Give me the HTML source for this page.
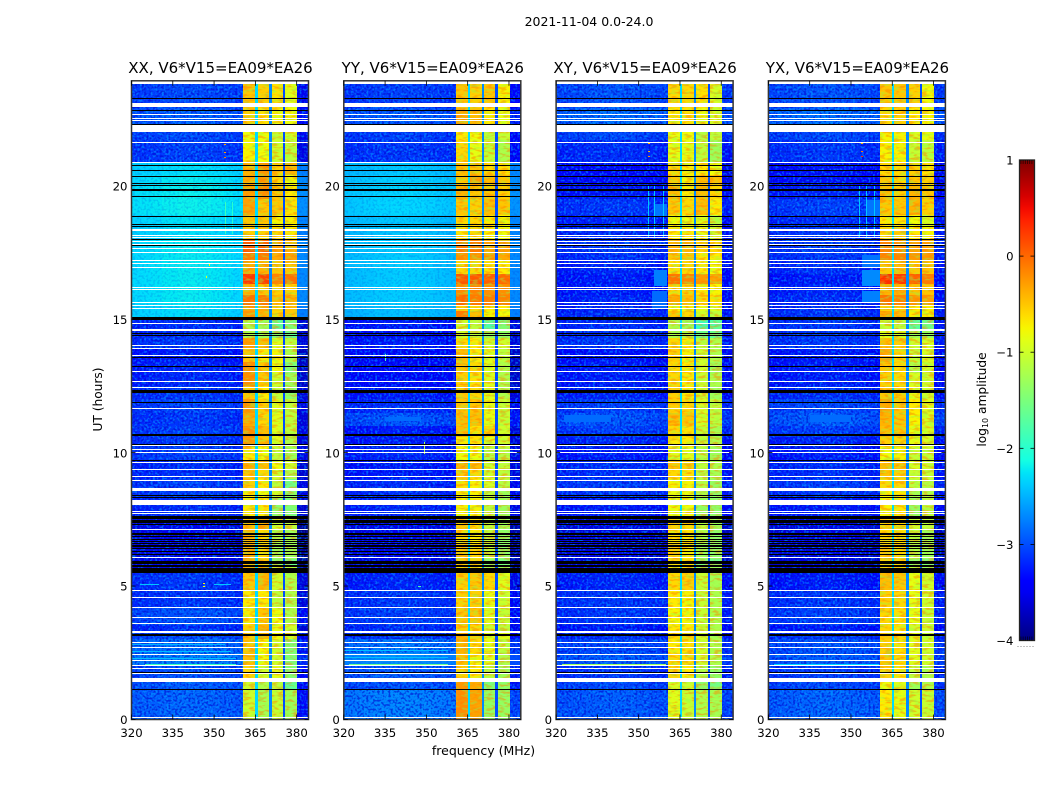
<!DOCTYPE html>
<html lang="en">
<head>
<meta charset="utf-8">
<title>2021-11-04 amplitude waterfall</title>
<style>
html,body{margin:0;padding:0;background:#fff;width:1050px;height:800px;overflow:hidden}
svg{display:block}
text{font-family:"DejaVu Sans","Liberation Sans",sans-serif;fill:#000}
</style>
</head>
<body>
<svg id="figure" width="1050" height="800" viewBox="0 0 1050 800" xmlns="http://www.w3.org/2000/svg">
  <defs>
    <filter id="speckle-light" x="0" y="0" width="1" height="1" color-interpolation-filters="sRGB">
      <feTurbulence type="fractalNoise" baseFrequency="0.45" numOctaves="1" seed="3"/>
      <feColorMatrix type="matrix" values="0 0 0 0 0  0 0 0 0 0.62  0 0 0 0 1  6 0 0 0 -2.9"/>
    </filter>
    <filter id="speckle-dark" x="0" y="0" width="1" height="1" color-interpolation-filters="sRGB">
      <feTurbulence type="fractalNoise" baseFrequency="0.45" numOctaves="1" seed="11"/>
      <feColorMatrix type="matrix" values="0 0 0 0 0  0 0 0 0 0  0 0 0 0 0.8  6 0 0 0 -2.9"/>
    </filter>
    <filter id="stripe-warm" x="0" y="0" width="1" height="1" color-interpolation-filters="sRGB">
      <feTurbulence type="fractalNoise" baseFrequency="0.14 0.38" numOctaves="2" seed="7"/>
      <feColorMatrix type="matrix" values="0 0 0 0 1  0 0 0 0 0.5  0 0 0 0 0  5 0 0 0 -2.4"/>
    </filter>
    <filter id="stripe-cool" x="0" y="0" width="1" height="1" color-interpolation-filters="sRGB">
      <feTurbulence type="fractalNoise" baseFrequency="0.14 0.38" numOctaves="2" seed="21"/>
      <feColorMatrix type="matrix" values="0 0 0 0 0.55  0 0 0 0 1  0 0 0 0 0.3  5 0 0 0 -2.5"/>
    </filter>
    <linearGradient id="jet-gradient" x1="0" y1="1" x2="0" y2="0"></linearGradient>
  </defs>
  <text x="589" y="26" text-anchor="middle" font-size="12.5">2021-11-04 0.0-24.0</text>
  <text x="483.5" y="755" text-anchor="middle" font-size="12.5">frequency (MHz)</text>
  <text transform="translate(102,399.5) rotate(-90)" text-anchor="middle" font-size="12.2">UT (hours)</text>
  <g id="panels"></g>
  <g id="colorbar"></g>
  <text transform="translate(986,399.5) rotate(-90)" text-anchor="middle" font-size="12.2">log<tspan font-size="8" dy="2">10</tspan><tspan dy="-2"> amplitude</tspan></text>
</svg>
<script>
// ---- axis ticks ----
const xTickLabels = [320, 335, 350, 365, 380];
const yTickLabels = [0, 5, 10, 15, 20];
const colorbarTicks = [1, 0, -1, -2, -3, -4];
const panelTitles = ["XX, V6*V15=EA09*EA26", "YY, V6*V15=EA09*EA26", "XY, V6*V15=EA09*EA26", "YX, V6*V15=EA09*EA26"];

// ---- heatmap rows: UT band edges (hours) ----
const utEdges = [0,1.15,1.5,2,2.5,3,3.3,3.55,4.2,4.8,5.5,5.7,6,6.6,7.1,7.6,8.3,8.6,9,9.4,9.7,10.2,10.6,11,11.5,12,12.5,13,13.4,13.9,14.3,14.55,15.03,15.3,15.5,15.9,16.3,16.7,17.2,17.5,18,18.5,18.9,19.5,20,20.4,20.9,21.7,22.2,22.9,23.95];

// ---- heatmap columns: frequency edges (MHz) ----
const backgroundEdges = [320, 323, 327, 331, 337, 344, 349, 353, 357, 360.6];
const backgroundOffsets = [-0.05, -0.03, -0.01, 0.02, 0.04, 0.03, 0.01, -0.02, -0.05];
const subbandEdges = [[360.6,365],[365.8,370.1],[371,375.1],[375.9,380.2]];
const gapEdges = [[365,365.8],[370.1,371],[375.1,375.9]];
const gapLevels = [-2.3, -2.7, -3.0];
const rightEdge = [380.2, 384.3];
const rightOffsets = [-0.45, -0.3, -0.12, -0.12];

// ---- log10 amplitude: off-band background per UT band ----
const xxBackground = [-2.9,-2.95,-3,-2.75,-2.85,-3.05,-3.2,-3,-3.15,-3.15,
 -3.6,-3.5,-3.55,-3.55,-3.55,-3.2,-3.1,-3.1,-3.2,-3.2,
 -3.1,-3.15,-3.1,-3.15,-3.1,-3.15,-3.25,-3.25,-3.3,-3.15,
 -3.2,-3.2,-2.3,-2.3,-2.25,-2.25,-2.25,-2.25,-2.25,-2.25,
 -2.3,-2.28,-2.22,-2.22,-2.25,-2.3,-3.1,-3.05,-2.95,-3.05];
const yyBackground = [-2.75,-3,-2.95,-2.7,-2.8,-3.15,-3.2,-3.1,-3.15,-3.25,
 -3.6,-3.55,-3.55,-3.55,-3.55,-3.25,-3.2,-3.2,-3.3,-3.3,
 -3.25,-3.3,-3.3,-3,-3.2,-3.3,-3.4,-3.45,-3.4,-3.3,
 -3.35,-3.3,-2.45,-2.45,-2.4,-2.4,-2.4,-2.4,-2.4,-2.4,
 -2.42,-2.42,-2.35,-2.35,-2.38,-2.42,-3.15,-3.1,-2.95,-3.1];
const xyBackground = [-2.95,-3.05,-3.15,-2.95,-3.05,-3.2,-3.3,-3.15,-3.15,-3.25,
 -3.6,-3.6,-3.6,-3.6,-3.6,-3.3,-3.15,-3.1,-3.2,-3.2,
 -3.3,-3.25,-3.1,-3,-3.1,-3.25,-3.3,-3.3,-3.35,-3.15,
 -3.2,-3.2,-3.2,-3.25,-3.25,-3.3,-3.3,-3.25,-3.2,-3.15,
 -3.2,-3.25,-3.15,-3.3,-3.4,-3.4,-3.2,-3.05,-2.85,-3];
const yxBackground = [-2.9,-3.05,-3.1,-2.95,-3,-3.15,-3.3,-3.1,-3.15,-3.3,
 -3.6,-3.6,-3.6,-3.6,-3.6,-3.3,-3.15,-3.1,-3.2,-3.2,
 -3.3,-3.25,-3.1,-2.95,-3.05,-3.2,-3.3,-3.3,-3.3,-3.15,
 -3.15,-3.15,-3.15,-3.2,-3.2,-3.25,-3.3,-3.2,-3.15,-3.1,
 -3.15,-3.2,-3.1,-3.25,-3.35,-3.35,-3.15,-3.05,-2.85,-3];

// ---- log10 amplitude: four bright sub-bands per UT band ----
const xxSubbands = [[-1,-1.25,-1.05,-1.3],[-1,-1.2,-1.1,-1.7],[-.6,-1,-.9,-1.5],[-.45,-.8,-1,-1.5],[-.5,-.75,-1,-1.5],
 [-.5,-.4,-.8,-.9],[-.55,-.4,-.85,-1],[-.7,-.5,-.8,-1.2],[-.7,-.7,-1.1,-1.2],[-.5,-.4,-1,-1.2],
 [-.4,-.4,-1,-1.1],[-.4,-.5,-1.4,-1.6],[-.35,-.6,-1.3,-1.3],[-.4,-.6,-1.2,-1.3],[-.45,-.35,-1,-1.1],
 [-.7,-.7,-1.4,-1.5],[-.7,-.8,-1,-1.4],[-.55,-.7,-1.1,-1.6],[-.5,-.6,-1,-1.2],[-.35,-.45,-.8,-1],
 [-.7,-.8,-1.1,-1.3],[-.25,-.5,-.9,-1.2],[-.2,-.45,-.9,-1.1],[-.35,-.6,-.9,-1.1],[-.25,-.55,-.9,-1.1],
 [-.5,-.7,-1.1,-1.4],[-.2,-.5,-1,-1.3],[-.2,-.5,-.8,-1.5],[-.5,-.7,-.75,-1.2],[-.3,-.45,-.9,-1.1],
 [-1.2,-1.3,-1.5,-1.7],[-1.2,-1.3,-1.7,-1.5],[-.25,-.4,-.6,-.5],[-.3,-.35,-.55,-.5],[-.05,-.1,-.45,-.4],
 [-.4,-.5,-.55,-.55],[.25,.2,-.15,-.05],[-.35,-.4,-.5,-.5],[-.1,-.1,-.35,-.3],[.1,.05,-.3,-.4],
 [-.55,-.55,-.6,-.7],[-.5,-.5,-.75,-.75],[-.3,-.5,-.5,-.65],[-.3,-.2,-.5,-.7],[-.35,-.25,-.6,-.75],
 [-.4,-.25,-.55,-.4],[-.75,-.8,-1,-1.1],[-.8,-.8,-1.05,-.95],[-.55,-.65,-.8,-.8],[-.5,-.55,-.65,-.9]];
const yySubbands = [[-.2,-.3,-1.35,-1.35],[-.25,-.35,-1.5,-1.4],[-.55,-.7,-1.1,-1.3],[-.45,-.75,-.9,-1.2],[-.4,-.6,-.85,-1.1],
 [-.4,-.55,-.85,-.9],[-.55,-.6,-1,-1.1],[-.5,-.5,-.9,-1.05],[-.55,-.55,-.85,-1],[-.55,-.5,-.6,-.9],
 [-.6,-.7,-1.2,-1.3],[-.5,-.55,-1.4,-1.5],[-.5,-.6,-1.1,-1.4],[-.6,-.7,-1.1,-1.4],[-.5,-.6,-1.1,-1.3],
 [-.75,-.75,-1.1,-1.3],[-.75,-.75,-1.1,-1.3],[-.65,-.75,-.95,-1.15],[-.5,-.6,-1,-1.1],[-.4,-.45,-1,-1.1],
 [-.8,-.8,-1.15,-1.15],[-.7,-.65,-.9,-1],[-.45,-.65,-.6,-1],[-.45,-.45,-.85,-1.05],[-.5,-.5,-.85,-1.05],
 [-.5,-.6,-.9,-1.2],[-.55,-.65,-.9,-1.2],[-.5,-.6,-.9,-1.2],[-.45,-.7,-.9,-1.1],[-.6,-.7,-1,-1],
 [-1,-1.1,-1.35,-1.4],[-1,-1.1,-1.8,-1.5],[-.1,-.45,-.75,-.8],[-.55,-.6,-.7,-.7],[0,-.1,-.1,-.15],
 [-.2,-.15,-.2,-.2],[.1,.1,.05,0],[-.6,-.6,-.65,-.7],[-.25,-.25,-.3,-.35],[-.1,-.1,-.35,-.3],
 [-.65,-.6,-.75,-.8],[-.6,-.6,-.7,-.75],[-.5,-.55,-.45,-.5],[-.4,-.5,-.5,-.55],[-.5,-.3,-.45,-.5],
 [-.45,-.5,-.6,-.65],[-.6,-.85,-1.05,-1.2],[-.7,-.8,-1.1,-1.05],[-.35,-.45,-.7,-.85],[-.5,-.55,-.5,-.75]];
const xySubbands = [[-.9,-1.05,-1.2,-1.25],[-.95,-1,-1.4,-1.55],[-.6,-.7,-1.2,-1.4],[-.6,-.6,-1,-1.2],[-.7,-.65,-1,-1.2],
 [-.6,-.6,-1,-1.25],[-.7,-.7,-1,-1.2],[-.75,-.75,-1.05,-1.2],[-.7,-.75,-1.05,-1.2],[-.6,-.55,-1.05,-1.25],
 [-.7,-.7,-1.3,-1.3],[-.6,-.65,-1.5,-1.6],[-.55,-.7,-1.3,-1.4],[-.65,-.7,-1.2,-1.4],[-.55,-.6,-1.1,-1.3],
 [-.8,-.8,-1.35,-1.4],[-.85,-.85,-1.2,-1.4],[-.75,-.75,-1.15,-1.35],[-.6,-.65,-1.15,-1.25],[-.5,-.55,-1.1,-1.2],
 [-.9,-.9,-1.15,-1.3],[-.7,-.7,-1.05,-1.2],[-.6,-.65,-1.05,-1.25],[-.45,-.5,-.95,-1.1],[-.55,-.6,-.95,-1.1],
 [-.55,-.7,-1,-1.3],[-.6,-.7,-1.05,-1.2],[-.6,-.7,-1,-1.3],[-.55,-.75,-1,-1.2],[-.6,-.7,-1.1,-1.2],
 [-1.2,-1.2,-1.6,-1.7],[-1.2,-1.3,-1.9,-1.8],[-.5,-.6,-1,-1.1],[-.75,-.75,-.85,-.9],[-.35,-.45,-.6,-.65],
 [-.6,-.55,-.7,-.75],[-.05,-.15,-.25,-.3],[-.65,-.6,-.7,-.8],[-.5,-.5,-.7,-.7],[-.4,-.4,-.55,-.6],
 [-.7,-.7,-.85,-1],[-.8,-.85,-.9,-1.1],[-.5,-.6,-.45,-.7],[-.45,-.7,-.45,-.6],[-.5,-.75,-.45,-.45],
 [-.6,-.7,-.7,-.8],[-.85,-.85,-1.1,-1.3],[-.85,-.8,-1.15,-1.1],[-.7,-.65,-.85,-.95],[-.6,-.6,-.65,-.95]];
const yxSubbands = [[-.7,-.85,-1,-1.05],[-.8,-.9,-1.3,-1.2],[-.55,-.65,-1.1,-1.2],[-.5,-.6,-.9,-1],[-.55,-.65,-.9,-1],
 [-.5,-.6,-.9,-1.05],[-.6,-.7,-1,-1],[-.6,-.65,-.85,-1.05],[-.55,-.6,-.85,-1],[-.45,-.5,-.85,-1],
 [-.6,-.6,-1.1,-1.3],[-.55,-.6,-1.4,-1.5],[-.5,-.6,-1.2,-1.3],[-.6,-.65,-1.1,-1.3],[-.55,-.6,-1,-1.1],
 [-.75,-.7,-1.35,-1.1],[-.75,-.7,-1.25,-1.2],[-.6,-.6,-1.1,-1.15],[-.5,-.55,-1.05,-1.05],[-.45,-.5,-.95,-1],
 [-.8,-.75,-1.05,-1.05],[-.55,-.6,-.85,-.95],[-.45,-.5,-.85,-.95],[-.4,-.5,-.75,-.95],[-.35,-.5,-.7,-.9],
 [-.5,-.55,-.85,-1],[-.55,-.6,-.95,-1],[-.5,-.6,-1.2,-1],[-.35,-.6,-1.05,-.95],[-.45,-.55,-1,-.95],
 [-.9,-.95,-1.3,-1.35],[-1.05,-1.1,-1.7,-1.6],[-.35,-.45,-.7,-.75],[-.55,-.55,-.7,-.75],[-.05,-.15,-.25,-.3],
 [-.4,-.4,-.45,-.5],[.3,.25,.05,-.1],[-.5,-.45,-.5,-.5],[-.15,-.15,-.25,-.25],[-.15,-.2,-.3,-.3],
 [-.6,-.55,-.7,-.75],[-.7,-.7,-.8,-.95],[-.5,-.5,-.4,-.55],[-.45,-.55,-.4,-.5],[-.5,-.6,-.5,-.55],
 [-.6,-.6,-.55,-.65],[-.75,-.75,-1.05,-1.1],[-.75,-.75,-.95,-.85],[-.6,-.55,-.7,-.75],[-.5,-.5,-.55,-.8]];

// ---- local features: [ut start, ut end, freq start, freq end, log10 amplitude] ----
const xxFeatures = [[2.02,2.07,325,358,-1.9],[2.25,2.29,320,358,-2.45],[2.52,2.56,320,356,-2.45],[2.78,2.82,320,354,-2.5],[5.03,5.07,323,330,-2.4],[5.03,5.07,350,356,-2.4],[5.09,5.13,346,346.6,-.8],[4.95,4.99,346,346.6,-.8],[21.54,21.58,353.7,354.3,-.3],[21.24,21.28,353.7,354.3,-.3],[21.05,21.09,353.7,354.3,-.1],[18.2,19.4,354,354.4,-1.9],[18.2,19.4,356.5,356.9,-2],[16.55,16.6,347,347.5,-.8],[17.0,17.05,348,348.5,-.8]];
const yyFeatures = [[2.03,2.08,322,358,-1.6],[2.3,2.34,320,358,-2.45],[2.55,2.59,320,358,-2.45],[4.95,5.02,347,348,-1.8],[13.45,13.7,335,335.4,-1.8],[11.2,11.35,335,348,-2.85],[9.95,10.4,349,349.4,-1.2]];
const xyFeatures = [[2.03,2.08,322,360,-1.3],[11.15,11.4,323,340,-2.85],[15.4,16.05,355,360.4,-2.85],[16.23,16.85,355.4,360.4,-2.75],[18.85,19.3,356,360.4,-2.8],[18.04,20.04,353.4,353.8,-2.4],[18.04,20.04,355.7,356.1,-2.4],[18.04,20.04,358.8,359.2,-2.4],[21.55,21.59,353.5,354,-.4],[21.25,21.29,353.5,354,-.4],[21.07,21.11,353.5,354,-.2]];
const yxFeatures = [[2.03,2.08,322,360,-2.3],[11.15,11.4,335,350,-2.85],[15.65,16.05,354,360.4,-2.75],[16.25,16.85,354,360.4,-2.7],[16.9,17.4,354,360.4,-2.8],[18.85,19.45,356,360.4,-2.8],[18.04,20.04,353,353.4,-2.4],[18.04,20.04,355.4,355.8,-2.4],[18.04,20.04,358.4,358.8,-2.4],[21.55,21.59,353.7,354.2,-.4],[21.25,21.29,353.7,354.2,-.1],[21.07,21.11,353.7,354.2,.3]];

// ---- flagged (blank, white) time spans [ut start, ut end] ----
const flaggedSpans = [[23.81,23.95],[22.94,23.11],[22.65,22.69],[22.5,22.54],[22.42,22.46],[22.01,22.27],[21.6,21.64],[20.85,20.89],
 [18.32,18.36],[18.12,18.15],[18.04,18.08],[17.9,17.94],[17.79,17.83],[17.63,17.67],[17.5,17.53],[17.16,17.2],[17.05,17.09],[16.9,16.94],
 [16.19,16.22],[16.09,16.13],[15.6,15.64],[15.5,15.54],[15.38,15.42],[14.82,14.86],[14.54,14.63],[14.46,14.49],[14.35,14.41],
 [13.98,14.02],[13.88,13.92],[13.61,13.65],[13.02,13.06],[12.63,12.67],[12.43,12.47],[11.62,11.66],[10.25,10.28],[10.1,10.14],[9.99,10.02],
 [9.61,9.65],[9.35,9.39],[9.09,9.12],[8.95,8.99],[8.56,8.68],[8.04,8.22],[7.77,7.81],[7.7,7.74],[7.1,7.14],[6.05,6.09],[5.83,5.86],[5.6,5.64],
 [4.81,4.85],[4.55,4.59],[4.19,4.23],[3.8,3.84],[3.58,3.62],[3.24,3.32],[2.87,2.9],[2.68,2.72],[2.42,2.45],[2.19,2.23],[2,2.04],[1.89,1.93],
 [1.7,1.74],[1.41,1.55],[.06,.09]];

// ---- zero-amplitude (black) time spans [ut start, ut end] ----
const zeroSpans = [[23.25,23.29],[22.79,22.83],[22.27,22.32],[20.72,20.76],[20.54,20.58],[20.33,20.37],[20.07,20.11],[19.97,20.01],[19.79,19.86],[19.57,19.61],
 [18.82,18.86],[18.52,18.56],[18.45,18.49],[17.95,17.99],[17.73,17.77],[14.97,15.07],[14.44,14.48],[14.35,14.39],[13.54,13.58],[13.2,13.24],
 [12.23,12.33],[11.86,11.9],[10.64,10.68],[10.28,10.32],[9.67,9.71],[8.39,8.43],[8.3,8.34],[7.6,7.64],[7.53,7.57],[7.45,7.49],[7.38,7.42],[7.27,7.31],
 [6.93,6.97],[6.84,6.88],[6.74,6.78],[6.65,6.69],[6.56,6.6],[6.48,6.52],[6.37,6.41],[6.26,6.3],[6.16,6.2],[5.83,5.95],[5.73,5.77],[5.5,5.66],
 [3.18,3.22],[3.11,3.15],[1.74,1.78],[1.12,1.16]];

const panelBackgrounds = [xxBackground, yyBackground, xyBackground, yxBackground];
const panelSubbands = [xxSubbands, yySubbands, xySubbands, yxSubbands];
const panelFeatures = [xxFeatures, yyFeatures, xyFeatures, yxFeatures];

// ---- layout ----
const NS = 'http://www.w3.org/2000/svg';
const FREQ_MIN = 320, FREQ_MAX = 384.3, UT_MAX = 23.93;
const AX_TOP = 80.8, AX_BOTTOM = 719.5, AX_WIDTH = 177, AX_STEP = 212.3, AX_FIRST = 131.5;
const COLOR_MIN = -4, COLOR_MAX = 1;
const CB_LEFT = 1019.5, CB_RIGHT = 1034.5, CB_TOP = 160, CB_BOTTOM = 640.5;

function panelLeft(i) { return AX_FIRST + AX_STEP * i; }
function xScale(i, f) { return panelLeft(i) + (f - FREQ_MIN) / (FREQ_MAX - FREQ_MIN) * AX_WIDTH; }
function yScale(ut) { return AX_BOTTOM - ut / UT_MAX * (AX_BOTTOM - AX_TOP); }
function cbScale(v) { return CB_BOTTOM - (v - COLOR_MIN) / (COLOR_MAX - COLOR_MIN) * (CB_BOTTOM - CB_TOP); }

function interp(t, pts) {
  for (let k = 1; k < pts.length; k++) {
    if (t <= pts[k][0]) {
      const a = pts[k - 1], b = pts[k];
      return a[1] + (t - a[0]) / (b[0] - a[0]) * (b[1] - a[1]);
    }
  }
  return pts[pts.length - 1][1];
}
function jet(t) {
  t = Math.max(0, Math.min(1, t));
  const r = interp(t, [[0,0],[.35,0],[.66,1],[.89,1],[1,.5]]);
  const g = interp(t, [[0,0],[.125,0],[.375,1],[.64,1],[.91,0],[1,0]]);
  const b = interp(t, [[0,.5],[.11,1],[.34,1],[.65,0],[1,0]]);
  return 'rgb(' + Math.round(r * 255) + ',' + Math.round(g * 255) + ',' + Math.round(b * 255) + ')';
}
function colorOf(v) { return jet((v - COLOR_MIN) / (COLOR_MAX - COLOR_MIN)); }

function make(tag, parent, attrs) {
  const el = document.createElementNS(NS, tag);
  for (const k in attrs) el.setAttribute(k, attrs[k]);
  parent.appendChild(el);
  return el;
}
function cellAttrs(i, f0, f1, u0, u1, fill) {
  const x0 = Math.round(xScale(i, f0)), x1 = Math.round(xScale(i, f1));
  const y0 = Math.round(yScale(u1)), y1 = Math.round(yScale(u0));
  return { x: x0, y: y0, width: Math.max(1, x1 - x0), height: Math.max(1, y1 - y0), fill: fill };
}

const panelsRoot = document.getElementById('panels');
panelTitles.forEach(function (title, i) {
  const slug = title.slice(0, 2).toLowerCase();
  const panel = make('g', panelsRoot, {});
  
  

  const heat = make('g', panel, { 'shape-rendering': 'crispEdges' });
  
  

  const base = make('rect', heat, { x: panelLeft(i), y: AX_TOP, width: AX_WIDTH, height: AX_BOTTOM - AX_TOP, fill: '#fff' });
  
  

  for (let b = 0; b < utEdges.length - 1; b++) {
    const u0 = utEdges[b], u1 = utEdges[b + 1];
    const bg = panelBackgrounds[i][b];
    const subs = panelSubbands[i][b];
    for (let s = 0; s < backgroundOffsets.length; s++) {
      const c = make('rect', heat, cellAttrs(i, backgroundEdges[s], backgroundEdges[s + 1], u0, u1, colorOf(bg + backgroundOffsets[s])));
      
      
    }
    const rc = make('rect', heat, cellAttrs(i, rightEdge[0], rightEdge[1], u0, u1, colorOf(bg + rightOffsets[i])));
    
    
    subs.forEach(function (v, s) {
      const c = make('rect', heat, cellAttrs(i, subbandEdges[s][0], subbandEdges[s][1], u0, u1, colorOf(v)));
      
      
    });
    gapEdges.forEach(function (g, s) {
      const c = make('rect', heat, cellAttrs(i, g[0], g[1], u0, u1, colorOf(gapLevels[s])));
      
      
    });
    // receiver texture: strong on faint rows, barely visible on bright rows
    const grain = bg < -2.7 ? 0.55 : 0.12;
    [[FREQ_MIN, backgroundEdges[backgroundEdges.length - 1]], rightEdge].forEach(function (range) {
      const box = cellAttrs(i, range[0], range[1], u0, u1, '#000');
      delete box.fill;
      box.filter = 'url(#speckle-light)';
      box.opacity = grain;
      const light = make('rect', heat, box);
      
      
      box.filter = 'url(#speckle-dark)';
      const dark = make('rect', heat, box);
      
      
    });
  }

  // mottled horizontal structure inside the bright sub-bands
  subbandEdges.forEach(function (edge) {
    const x0 = Math.round(xScale(i, edge[0])), x1 = Math.round(xScale(i, edge[1]));
    const warm = make('rect', heat, { x: x0, y: AX_TOP, width: x1 - x0, height: AX_BOTTOM - AX_TOP, filter: 'url(#stripe-warm)', opacity: 0.5 });
    
    
    const cool = make('rect', heat, { x: x0, y: AX_TOP, width: x1 - x0, height: AX_BOTTOM - AX_TOP, filter: 'url(#stripe-cool)', opacity: 0.4 });
    
    
  });

  panelFeatures[i].forEach(function (p) {
    const c = make('rect', heat, cellAttrs(i, p[2], p[3], p[0], p[1], colorOf(p[4])));
    
    
  });

  flaggedSpans.forEach(function (s) {
    const c = make('rect', heat, cellAttrs(i, FREQ_MIN, FREQ_MAX, s[0], s[1], '#fff'));
    
    
  });
  zeroSpans.forEach(function (s) {
    const c = make('rect', heat, cellAttrs(i, FREQ_MIN, FREQ_MAX, s[0], s[1], '#000'));
    
    
  });

  // frame
  const frame = make('rect', panel, { x: panelLeft(i), y: AX_TOP, width: AX_WIDTH, height: AX_BOTTOM - AX_TOP, fill: 'none', stroke: '#333', 'stroke-width': 1.5 });
  
  

  // title
  const t = make('text', panel, { x: panelLeft(i) + AX_WIDTH / 2 + 0.5, y: 73, 'text-anchor': 'middle', 'font-size': 15 });
  t.textContent = title;
  
  

  // x ticks
  xTickLabels.forEach(function (f) {
    const x = xScale(i, f);
    const top = make('line', panel, { x1: x, x2: x, y1: AX_TOP, y2: AX_TOP + 5, stroke: '#000', 'stroke-width': 0.8 });
    
    
    const bot = make('line', panel, { x1: x, x2: x, y1: AX_BOTTOM - 5, y2: AX_BOTTOM, stroke: '#000', 'stroke-width': 0.8 });
    
    
    const lab = make('text', panel, { x: x, y: 737, 'text-anchor': 'middle', 'font-size': 11.7 });
    lab.textContent = f;
    
    
  });

  // y ticks
  yTickLabels.forEach(function (u) {
    const y = yScale(u);
    const left = make('line', panel, { x1: panelLeft(i), x2: panelLeft(i) + 4, y1: y, y2: y, stroke: '#000', 'stroke-width': 0.8 });
    
    
    const right = make('line', panel, { x1: panelLeft(i) + AX_WIDTH - 4, x2: panelLeft(i) + AX_WIDTH, y1: y, y2: y, stroke: '#000', 'stroke-width': 0.8 });
    
    
    const lab = make('text', panel, { x: panelLeft(i) - 4, y: y + 4.7, 'text-anchor': 'end', 'font-size': 11.7 });
    lab.textContent = u;
    
    
  });
});

// ---- colorbar ----
const gradient = document.getElementById('jet-gradient');
for (let k = 0; k <= 40; k++) {
  const stop = make('stop', gradient, { offset: (k / 40).toFixed(3), 'stop-color': jet(k / 40) });
  
  
}
const cbRoot = document.getElementById('colorbar');
const cbBar = make('rect', cbRoot, { x: CB_LEFT, y: CB_TOP, width: CB_RIGHT - CB_LEFT, height: CB_BOTTOM - CB_TOP, fill: 'url(#jet-gradient)', stroke: '#222', 'stroke-width': 1.3 });


colorbarTicks.forEach(function (v) {
  const y = cbScale(v);
  const lab = make('text', cbRoot, { x: 1013.5, y: y + 4.5, 'text-anchor': 'end', 'font-size': 11.7 });
  lab.textContent = String(v).replace('-', '\u2212');
  
  
  if (v > COLOR_MIN && v < COLOR_MAX) {
    const l = make('line', cbRoot, { x1: CB_LEFT, x2: CB_LEFT + 4, y1: y, y2: y, stroke: '#000', 'stroke-width': 0.8 });
    
    
    const r = make('line', cbRoot, { x1: CB_RIGHT - 4, x2: CB_RIGHT, y1: y, y2: y, stroke: '#000', 'stroke-width': 0.8 });
    
    
  }
});
[CB_TOP, CB_BOTTOM - 4].forEach(function (y) {
  const m = make('line', cbRoot, { x1: CB_LEFT + 1, x2: CB_RIGHT - 1, y1: y + 2, y2: y + 2, stroke: '#000', 'stroke-width': 4, 'stroke-dasharray': '0.8 1.4', opacity: 0.7 });
  
  
});
const dots = make('line', cbRoot, { x1: 1017.5, x2: 1035, y1: 646.5, y2: 646.5, stroke: '#888', 'stroke-width': 1, 'stroke-dasharray': '1 2' });


</script>
</body>
</html>
